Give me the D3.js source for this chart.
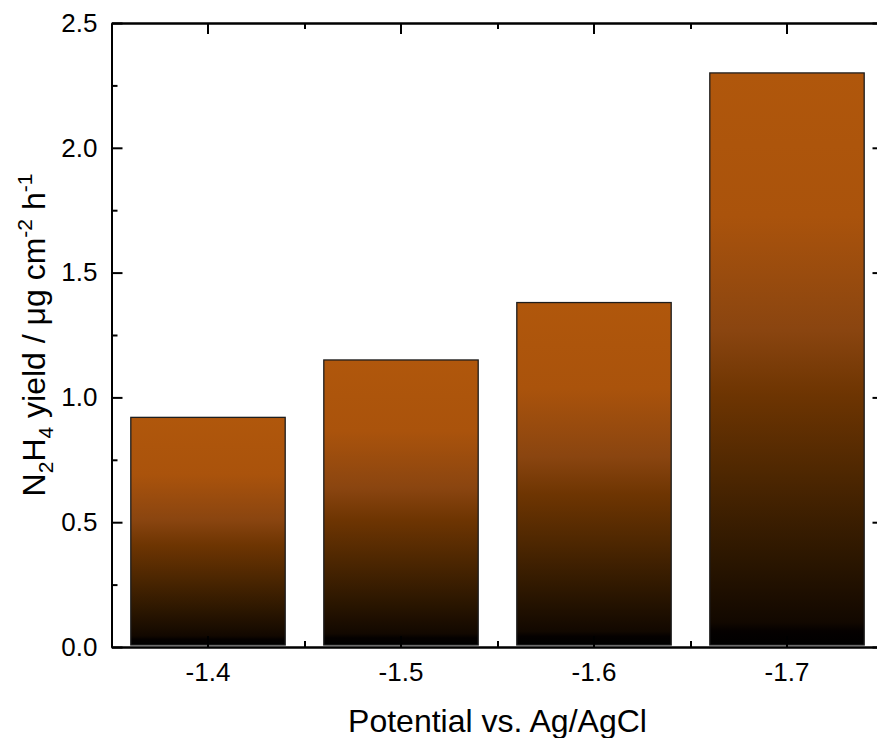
<!DOCTYPE html>
<html>
<head>
<meta charset="utf-8">
<script src="https://cdn.jsdelivr.net/npm/d3@7"></script>
<style>
  body { margin: 0; background: #fff; }
  svg { display: block; font-family: "Liberation Sans", Arial, sans-serif; }
  .axis path, .axis line { stroke: #000; stroke-width: 2; }
  .axis text { font-size: 26px; fill: #000; font-family: "Liberation Sans", Arial, sans-serif; }
</style>
</head>
<body>
<svg id="chart" width="877" height="738"></svg>
<script>
// data
const potentials = ["-1.4", "-1.5", "-1.6", "-1.7"]
const yields = [0.92, 1.15, 1.38, 2.30]
const yTicks = [0.0, 0.5, 1.0, 1.5, 2.0, 2.5]
const yMinorTicks = [0.25, 0.75, 1.25, 1.75, 2.25]
const xMinorSlots = [1.5, 2.5, 3.5]

const width = 877, height = 738
const marginLeft = 111.5, marginRight = -6.5, marginTop = 23, marginBottom = 91

const svg = d3.select("#chart")

// x scales: band for bars, linear slot scale for the minor ticks between them
const x = d3.scaleBand(potentials, [marginLeft, width - marginRight])
  .paddingInner(0.2)
  .paddingOuter(0.1)
const xSlot = d3.scaleLinear([0.5, potentials.length + 0.5], [marginLeft, width - marginRight])
const y = d3.scaleLinear([0, 2.5], [height - marginBottom, marginTop])

// gradient, orange at the top of each bar fading to black at its base
const grad = svg.append("defs").append("linearGradient")
  .attr("id", "barFill")
  .attr("x1", 0).attr("y1", 0).attr("x2", 0).attr("y2", 1)
const stops = [
  [0, "#b0570c"], [0.25, "#aa530c"], [0.45, "#8a4510"], [0.56, "#6e3502"],
  [0.7, "#4e2701"], [0.85, "#2b1600"], [0.96, "#120800"], [0.975, "#050100"], [1, "#000"]
]
grad.selectAll("stop").data(stops).join("stop")
  .attr("offset", d => d[0])
  .attr("stop-color", d => d[1])

// bars
svg.append("g")
  .selectAll("rect")
  .data(potentials)
  .join("rect")
  .attr("x", d => x(d))
  .attr("width", x.bandwidth())
  .attr("y", (d, i) => y(yields[i]))
  .attr("height", (d, i) => y(0) - y(yields[i]) - 2)
  .attr("fill", "url(#barFill)")
  .attr("stroke", "#1e1e1e")
  .attr("stroke-width", 1.3)

// axes, ticks point inward
const bottom = height - marginBottom
const right = width - marginRight

svg.append("g").attr("class", "axis")
  .attr("transform", `translate(0,${bottom})`)
  .call(d3.axisBottom(x).tickSize(-11).tickSizeOuter(0).tickPadding(16))

svg.append("g").attr("class", "axis")
  .attr("transform", `translate(0,${bottom})`)
  .call(d3.axisBottom(xSlot).tickValues(xMinorSlots).tickSize(-6).tickSizeOuter(0).tickFormat(""))

svg.append("g").attr("class", "axis")
  .attr("transform", `translate(0,${marginTop})`)
  .call(d3.axisTop(x).tickSize(-11).tickSizeOuter(0).tickFormat(""))

svg.append("g").attr("class", "axis")
  .attr("transform", `translate(0,${marginTop})`)
  .call(d3.axisTop(xSlot).tickValues(xMinorSlots).tickSize(-6).tickSizeOuter(0).tickFormat(""))

svg.append("g").attr("class", "axis")
  .attr("transform", `translate(${marginLeft},0)`)
  .call(d3.axisLeft(y).tickValues(yTicks).tickSize(-11).tickSizeOuter(0).tickPadding(14).tickFormat(d3.format(".1f")))

svg.append("g").attr("class", "axis")
  .attr("transform", `translate(${marginLeft},0)`)
  .call(d3.axisLeft(y).tickValues(yMinorTicks).tickSize(-6).tickSizeOuter(0).tickFormat(""))

svg.append("g").attr("class", "axis")
  .attr("transform", `translate(${right},0)`)
  .call(d3.axisRight(y).tickValues(yTicks).tickSize(-11).tickSizeOuter(0).tickFormat(""))

svg.append("g").attr("class", "axis")
  .attr("transform", `translate(${right},0)`)
  .call(d3.axisRight(y).tickValues(yMinorTicks).tickSize(-6).tickSizeOuter(0).tickFormat(""))

// axis titles
svg.append("text")
  .attr("x", 497.5)
  .attr("y", 732)
  .attr("text-anchor", "middle")
  .attr("font-size", 32)
  .text("Potential vs. Ag/AgCl")

const yt = svg.append("text")
  .attr("transform", `translate(45,${(marginTop + bottom) / 2}) rotate(-90)`)
  .attr("text-anchor", "middle")
  .attr("font-size", 32)
yt.append("tspan").text("N")
yt.append("tspan").attr("font-size", 21).attr("dy", 8).text("2")
yt.append("tspan").attr("dy", -8).text("H")
yt.append("tspan").attr("font-size", 21).attr("dy", 8).text("4")
yt.append("tspan").attr("dy", -8).text(" yield / μg cm")
yt.append("tspan").attr("font-size", 21).attr("dy", -13).text("-2")
yt.append("tspan").attr("dy", 13).text(" h")
yt.append("tspan").attr("font-size", 21).attr("dy", -13).text("-1")
</script>
</body>
</html>
